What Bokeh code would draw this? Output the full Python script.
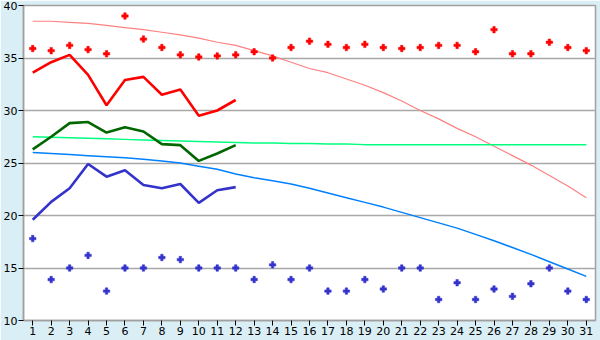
from bokeh.plotting import figure
from bokeh.models import Range1d, FixedTicker
from bokeh.embed import file_html
from bokeh.resources import INLINE

days = list(range(1, 32))
days12 = list(range(1, 13))

max_points = [35.9, 35.7, 36.2, 35.8, 35.4, 39.0, 36.8, 36.0, 35.3, 35.1, 35.2, 35.3, 35.6, 35.0, 36.0, 36.6,
              36.3, 36.0, 36.3, 36.0, 35.9, 36.0, 36.2, 36.2, 35.6, 37.7, 35.4, 35.4, 36.5, 36.0, 35.7]
min_points = [17.8, 13.9, 15.0, 16.2, 12.8, 15.0, 15.0, 16.0, 15.8, 15.0, 15.0, 15.0, 13.9, 15.3, 13.9, 15.0,
              12.8, 12.8, 13.9, 13.0, 15.0, 15.0, 12.0, 13.6, 12.0, 13.0, 12.3, 13.5, 15.0, 12.8, 12.0]
max_line = [33.6, 34.6, 35.3, 33.4, 30.5, 32.9, 33.2, 31.5, 32.0, 29.5, 30.0, 31.0]
mean_line = [26.3, 27.5, 28.8, 28.9, 27.9, 28.4, 28.0, 26.8, 26.7, 25.2, 25.9, 26.7]
min_line = [19.6, 21.3, 22.6, 24.9, 23.7, 24.3, 22.9, 22.6, 23.0, 21.2, 22.4, 22.7]
normal_max = [38.5, 38.5, 38.4, 38.3, 38.1, 37.9, 37.7, 37.45, 37.2, 36.9, 36.5, 36.2, 35.7, 35.2, 34.6, 34.0,
              33.6, 33.0, 32.4, 31.7, 30.9, 30.0, 29.2, 28.3, 27.5, 26.6, 25.7, 24.8, 23.8, 22.8, 21.7]
normal_mean = [27.5, 27.45, 27.4, 27.35, 27.3, 27.25, 27.2, 27.15, 27.1, 27.05, 27.0, 26.95, 26.9, 26.9, 26.85,
               26.85, 26.8, 26.8, 26.75, 26.75, 26.75, 26.75, 26.75, 26.75, 26.75, 26.75, 26.75, 26.75, 26.75,
               26.75, 26.75]
normal_min = [26.0, 25.9, 25.8, 25.7, 25.6, 25.5, 25.35, 25.2, 25.0, 24.7, 24.4, 23.95, 23.6, 23.3, 23.0, 22.6,
              22.15, 21.7, 21.25, 20.8, 20.3, 19.8, 19.3, 18.8, 18.2, 17.6, 16.95, 16.3, 15.6, 14.9, 14.2]
y_ticks = [10, 15, 20, 25, 30, 35, 40]

bg = "#D9EEF5"
p = figure(width=600, height=340, output_backend="svg", toolbar_location=None,
           x_range=Range1d(0.5, 31.5), y_range=Range1d(10, 40),
           min_border_left=20, min_border_right=5, min_border_top=5, min_border_bottom=20)
p.background_fill_color = "white"
p.border_fill_color = bg
p.outline_line_color = "#A0A0A0"
p.outline_line_width = 1.5

p.xgrid.visible = False
p.ygrid.ticker = FixedTicker(ticks=y_ticks)
p.ygrid.grid_line_color = "#A8A8A8"
p.ygrid.grid_line_width = 1.5

for ax in (p.xaxis[0], p.yaxis[0]):
    ax.axis_line_color = "#A0A0A0"
    ax.axis_line_width = 1.5
    ax.major_tick_line_color = "black"
    ax.major_tick_in = 0
    ax.major_tick_out = 5
    ax.minor_tick_line_color = None
    ax.major_label_text_font = "DejaVu Sans"
    ax.major_label_text_font_size = "11px"
    ax.major_label_text_color = "black"
    ax.major_label_standoff = 1
p.xaxis.ticker = FixedTicker(ticks=days)
p.yaxis.ticker = FixedTicker(ticks=y_ticks)

p.line(days, normal_max, line_color="#FF8080", line_width=1.2)
p.line(days, normal_mean, line_color="#00FF80", line_width=1.5)
p.line(days, normal_min, line_color="#0080FF", line_width=1.5)

p.line(days12, max_line, line_color="#FF0000", line_width=2.6)
p.line(days12, mean_line, line_color="#006600", line_width=2.6)
p.line(days12, min_line, line_color="#3333CC", line_width=2.6)

p.scatter(days, max_points, marker="plus", size=6.5, fill_color="#FF0000", line_color="#FF0000", line_width=0.5)
p.scatter(days, min_points, marker="plus", size=6.5, fill_color="#3333CC", line_color="#3333CC", line_width=0.5)

open("out.html", "w").write(file_html(p, INLINE))
